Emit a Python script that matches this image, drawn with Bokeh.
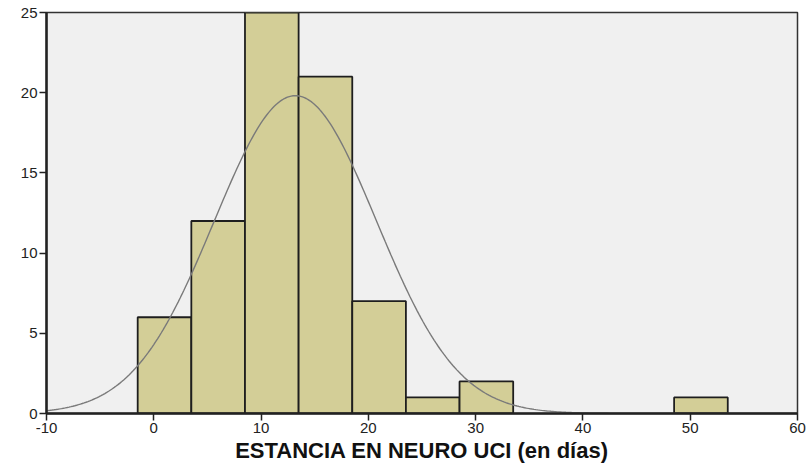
import numpy as np
from bokeh.plotting import figure
from bokeh.models import FixedTicker, Range1d
from bokeh.embed import file_html
from bokeh.resources import INLINE

# Histogram data
bin_left = [-1.5, 3.5, 8.5, 13.5, 18.5, 23.5, 28.5, 33.5, 38.5, 43.5, 48.5]
bin_right = [3.5, 8.5, 13.5, 18.5, 23.5, 28.5, 33.5, 38.5, 43.5, 48.5, 53.5]
counts = [6, 12, 25, 21, 7, 1, 2, 0, 0, 0, 1]

# Fitted normal curve parameters (estimated)
n_total = 75
bin_width = 5
mean_val = 13.2
sd_val = 7.55

x_ticks = [-10, 0, 10, 20, 30, 40, 50, 60]
y_ticks = [0, 5, 10, 15, 20, 25]

p = figure(frame_width=751, frame_height=401, output_backend="svg", toolbar_location=None,
           x_range=Range1d(-10, 60), y_range=Range1d(0, 25),
           min_border_left=46, min_border_top=12, min_border_right=10, min_border_bottom=52,
           border_fill_color="#FFFFFF")
p.background_fill_color = "#F0F0F0"

nz = [i for i, c in enumerate(counts) if c > 0]
p.quad(left=[bin_left[i] for i in nz], right=[bin_right[i] for i in nz],
       bottom=0, top=[counts[i] for i in nz],
       fill_color="#D3CE97", line_color="#1e1e1e", line_width=1.8)

xs = np.linspace(-10, 60, 400)
ys = n_total * bin_width / (sd_val * np.sqrt(2 * np.pi)) * np.exp(-(xs - mean_val) ** 2 / (2 * sd_val ** 2))
p.line(xs, ys, line_color="#7a7a7a", line_width=1.4)

p.xgrid.visible = False
p.ygrid.visible = False
p.outline_line_color = "#333333"
p.outline_line_width = 1.5

for ax in (p.xaxis[0], p.yaxis[0]):
    ax.axis_line_color = "#222222"
    ax.axis_line_width = 2.5
    ax.major_tick_line_color = "#222222"
    ax.major_tick_line_width = 1.5
    ax.major_tick_out = 7
    ax.major_tick_in = 0
    ax.minor_tick_line_color = None
    ax.major_label_text_font = "Liberation Sans"
    ax.major_label_text_font_size = "15px"
    ax.major_label_text_color = "#222222"

p.xaxis.ticker = FixedTicker(ticks=x_ticks)
p.yaxis.ticker = FixedTicker(ticks=y_ticks)
p.xaxis.major_label_overrides = {t: str(t) for t in x_ticks}
p.xaxis.major_label_standoff = 2
p.yaxis.major_label_standoff = 2
p.xaxis.axis_label = "ESTANCIA EN NEURO UCI (en días)"
p.xaxis.axis_label_text_font = "Liberation Sans"
p.xaxis.axis_label_text_font_style = "bold"
p.xaxis.axis_label_text_font_size = "22px"
p.xaxis.axis_label_text_color = "#111111"
p.xaxis.axis_label_standoff = 2

open("out.html", "w").write(file_html(p, INLINE))
